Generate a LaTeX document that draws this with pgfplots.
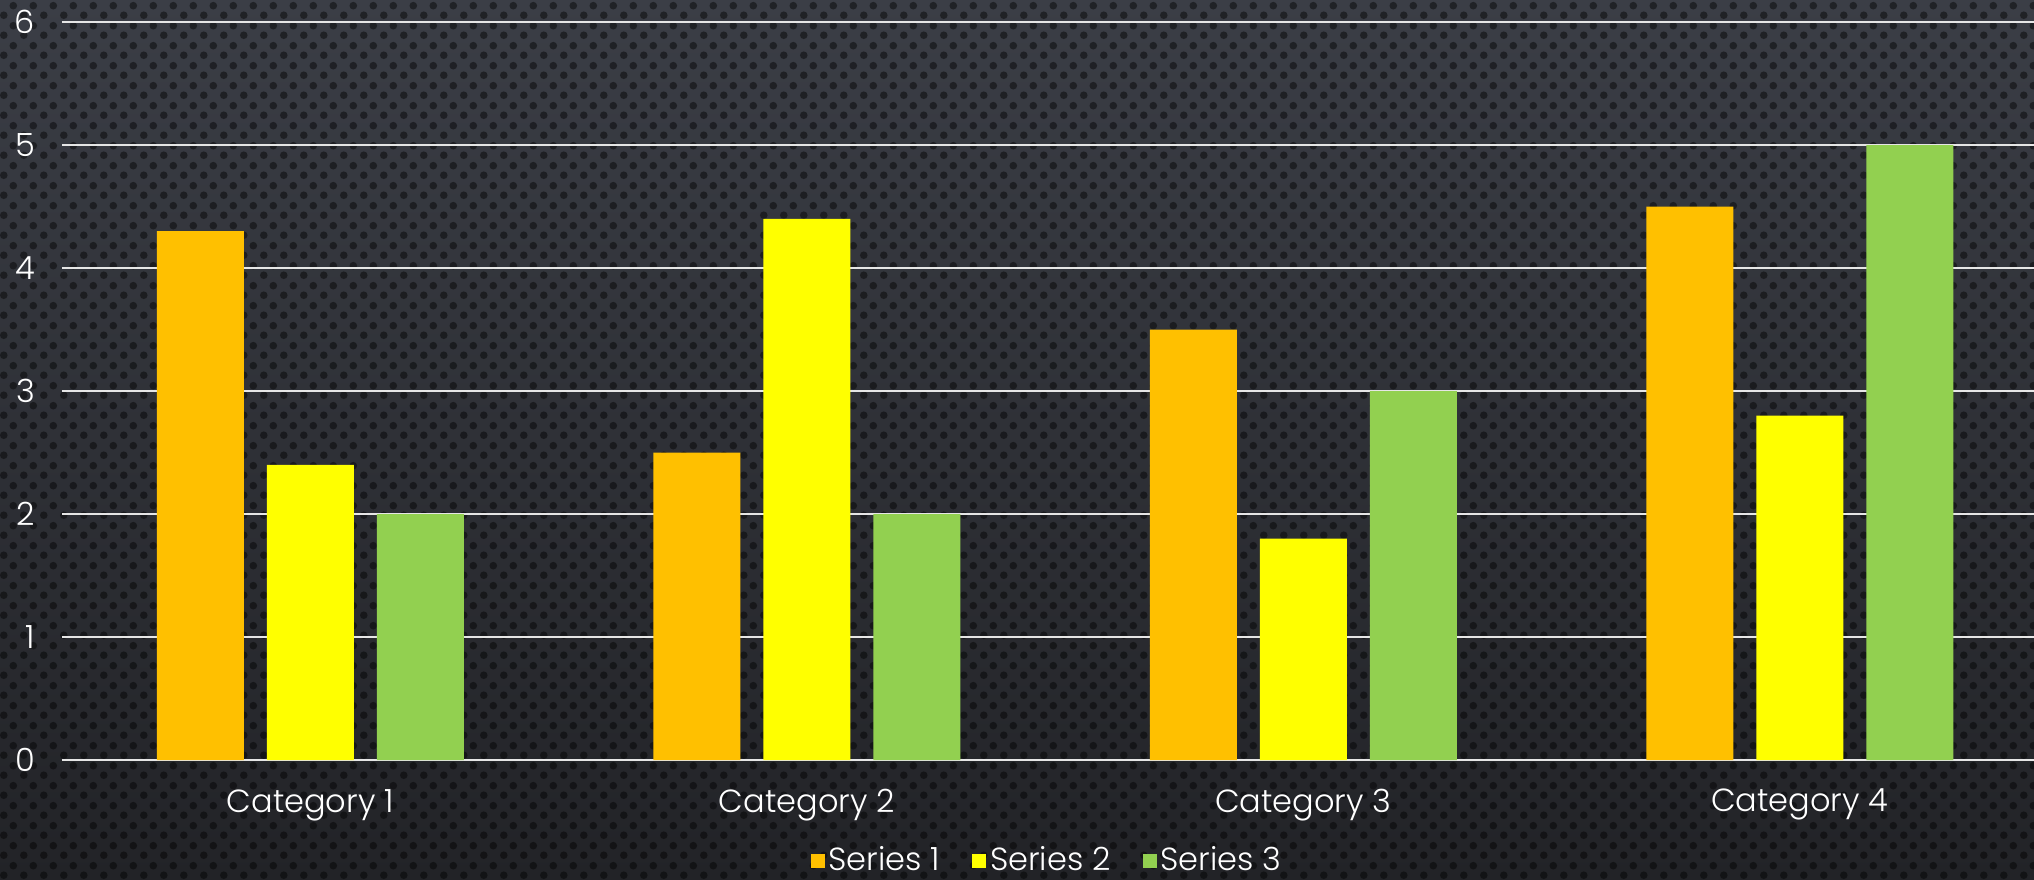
\documentclass[border=0pt]{standalone}
\usepackage{pgfplots}
\pgfplotsset{compat=1.18}
\usepackage{fontspec}
\setmainfont{Poppins}[UprightFont=* Light]
\usetikzlibrary{patterns.meta}
\definecolor{sone}{HTML}{FFC000}
\definecolor{stwo}{HTML}{FFFF00}
\definecolor{sthree}{HTML}{92D050}
\definecolor{bgtop}{HTML}{3B3E46}
\definecolor{bgbot}{HTML}{222327}
\definecolor{gridc}{HTML}{E6E6E6}
\tikzdeclarepattern{name=mydots, type=uncolored, bounding box={(0,0) and (10pt,10pt)}, tile size={(10pt,10pt)},
  code={\fill (2.5pt,2.5pt) circle (2pt); \fill (7.5pt,7.5pt) circle (2pt);}}
\begin{document}
\fontsize{16}{19}\selectfont
\begin{tikzpicture}
\useasboundingbox (0,0) rectangle (1017pt,439.5pt);
\clip (0,0) rectangle (1017pt,439.5pt);
\shade[top color=bgtop, bottom color=bgbot] (0,0) rectangle (1017pt,439.5pt);
\fill[pattern=mydots, pattern color=black, fill opacity=0.45] (0,0) rectangle (1017pt,439.5pt);
\begin{axis}[
  at={(31pt,59.5pt)}, anchor=south west,
  scale only axis, width=993pt, height=369pt,
  ybar=11.5pt, bar width=43.5pt,
  xmin=-0.5, xmax=3.5, ymin=0, ymax=6,
  xtick={0,1,2,3}, xticklabels={Category 1,Category 2,Category 3,Category 4},
  ytick={0,1,2,3,4,5,6},
  ymajorgrids, grid style={gridc, line width=1pt},
  axis line style={draw=none}, major tick length=0pt,
  tick label style={text=white, font=\fontsize{16}{19}\selectfont},
  /pgf/number format/assume math mode=true,
  yticklabel style={anchor=east, xshift=-8pt},
  xticklabel style={anchor=north, yshift=-9pt},
  legend columns=3,
  legend style={at={(0,0)}, anchor=center, xshift=493pt, yshift=-50.5pt, draw=none, fill=none,
    text=white, font=\fontsize{16}{19}\selectfont,
    /tikz/every even column/.append style={column sep=14pt}},
  legend image code/.code={\fill[#1,draw=none] (0pt,-3.5pt) rectangle (7pt,3.5pt);},
]
\addplot[fill=sone, draw=none] coordinates {(0,4.3) (1,2.5) (2,3.5) (3,4.5)};
\addplot[fill=stwo, draw=none] coordinates {(0,2.4) (1,4.4) (2,1.8) (3,2.8)};
\addplot[fill=sthree, draw=none] coordinates {(0,2.0) (1,2.0) (2,3.0) (3,5.0)};
\legend{Series 1,Series 2,Series 3}
\end{axis}
\end{tikzpicture}
\end{document}
